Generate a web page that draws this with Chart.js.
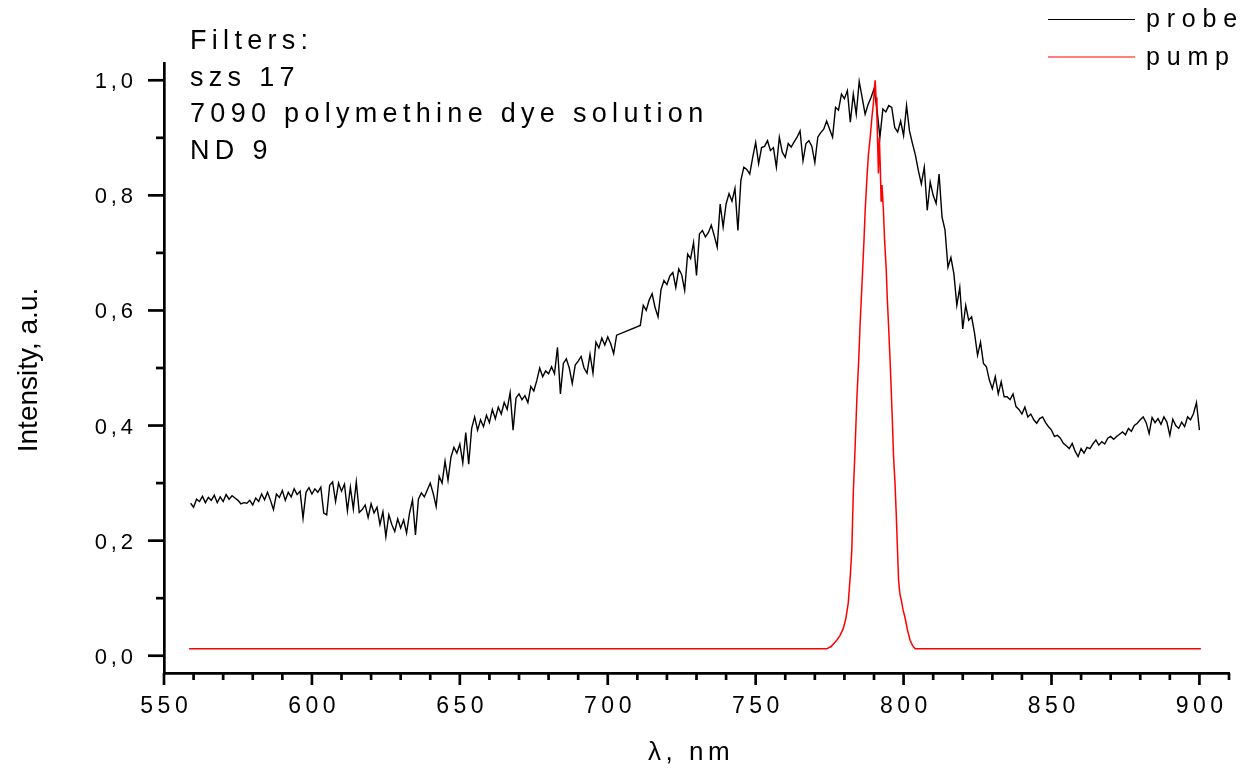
<!DOCTYPE html>
<html lang="en">
  <head>
    <meta charset="UTF-8" />
    <title>probe / pump</title>
    <script src="https://cdn.jsdelivr.net/npm/chart.js"></script>
    <style>
      body { margin: 0; background: #fff; }
    </style>
  </head>
  <body>
    <canvas id="myChart" width="1245" height="769"></canvas>
    <script>
      // probe spectrum, 1 nm step, two runs (no data between 703 and 711)
      const probeStart1 = 559;
      const probeRun1 = [
        0.265, 0.258, 0.272, 0.268, 0.277, 0.266, 0.275, 0.27, 0.279, 0.266,
        0.276, 0.268, 0.28, 0.272, 0.278, 0.274, 0.27, 0.264, 0.266, 0.265,
        0.27, 0.262, 0.274, 0.268, 0.281, 0.271, 0.284, 0.27, 0.254, 0.281,
        0.275, 0.287, 0.27, 0.284, 0.276, 0.29, 0.28, 0.286, 0.239, 0.284,
        0.292, 0.281, 0.29, 0.284, 0.293, 0.248, 0.245, 0.296, 0.302, 0.268,
        0.3, 0.286, 0.298, 0.252, 0.293, 0.255, 0.302, 0.249, 0.254, 0.262,
        0.24, 0.264, 0.248, 0.258, 0.228, 0.25, 0.207, 0.245, 0.228, 0.216,
        0.238, 0.222, 0.236, 0.213, 0.248, 0.271, 0.21, 0.272, 0.283, 0.276,
        0.288, 0.3, 0.282, 0.259, 0.312, 0.3, 0.338, 0.305, 0.345, 0.362,
        0.352, 0.368, 0.335, 0.388, 0.333, 0.395, 0.415, 0.392, 0.41, 0.398,
        0.418, 0.405, 0.428, 0.412, 0.432, 0.42, 0.44, 0.428, 0.457, 0.392,
        0.448, 0.455, 0.445, 0.452, 0.44, 0.468, 0.46, 0.478, 0.5, 0.485,
        0.495, 0.49, 0.502, 0.49, 0.536, 0.455, 0.508, 0.516, 0.5, 0.473,
        0.505, 0.512, 0.52, 0.5, 0.491, 0.524, 0.491, 0.545, 0.535, 0.552,
        0.54, 0.554, 0.542, 0.525, 0.557,
      ];
      const probeStart2 = 711;
      const probeRun2 = [
        0.574, 0.609, 0.6, 0.618, 0.629, 0.605, 0.589, 0.636, 0.652, 0.645,
        0.66, 0.666, 0.64, 0.672, 0.662, 0.635, 0.698, 0.69, 0.718, 0.661,
        0.733, 0.739, 0.728, 0.735, 0.748, 0.73, 0.71, 0.785, 0.745, 0.785,
        0.803, 0.79, 0.812, 0.739, 0.826, 0.849, 0.845, 0.837, 0.866, 0.892,
        0.855, 0.883, 0.885, 0.895, 0.878, 0.883, 0.849, 0.901, 0.875, 0.866,
        0.89, 0.884, 0.893, 0.901, 0.912, 0.86, 0.89, 0.895, 0.885, 0.857,
        0.901, 0.909, 0.915, 0.929, 0.915, 0.901, 0.953, 0.948, 0.976, 0.968,
        0.982, 0.927, 0.976, 0.941, 0.998, 0.97, 0.941, 0.958, 0.97, 0.985,
        0.95, 0.901, 0.95, 0.945, 0.956, 0.953, 0.918, 0.91, 0.929, 0.904,
        0.956, 0.912, 0.89, 0.87, 0.843, 0.82, 0.849, 0.774, 0.823, 0.8,
        0.786, 0.837, 0.762, 0.74, 0.675, 0.692, 0.664, 0.609, 0.64, 0.568,
        0.609, 0.583, 0.589, 0.56, 0.522, 0.545, 0.508, 0.502, 0.479, 0.464,
        0.485, 0.455, 0.476, 0.45, 0.45, 0.445, 0.455, 0.433, 0.428, 0.42,
        0.432, 0.415, 0.42, 0.41, 0.404, 0.412, 0.415, 0.405, 0.398, 0.392,
        0.381, 0.383, 0.378, 0.369, 0.365, 0.36, 0.369, 0.355, 0.346, 0.36,
        0.352, 0.362, 0.36, 0.368, 0.375, 0.366, 0.372, 0.368, 0.378, 0.381,
        0.376, 0.381, 0.385, 0.389, 0.384, 0.395, 0.39, 0.4, 0.404, 0.41,
        0.415, 0.405, 0.386, 0.414, 0.405, 0.412, 0.402, 0.415, 0.406, 0.383,
        0.411, 0.4, 0.395, 0.406, 0.398, 0.415, 0.41, 0.421, 0.44, 0.392,
      ];

      // pump spectrum (wavelength, intensity)
      const pumpWl = [
        558.5, 774.0, 775.5, 777.4, 778.5, 779.6, 780.5, 781.3, 782.0, 782.5,
        783.0, 783.6, 784.2, 784.8, 785.3, 785.8, 786.2, 786.6, 787.0, 787.5,
        788.1, 788.7, 789.3, 789.8, 790.2, 790.4, 790.7, 791.0, 791.5, 791.8,
        792.1, 792.4, 792.7, 793.2, 793.6, 794.1, 794.5, 794.9, 795.3, 795.7,
        796.2, 796.6, 797.1, 797.5, 797.9, 798.3, 798.6, 798.8, 799.3, 799.8,
        800.5, 801.3, 802.2, 803.0, 803.9, 900.5,
      ];
      const pumpInt = [
        0.012, 0.012, 0.016, 0.027, 0.035, 0.047, 0.065, 0.092, 0.14, 0.184,
        0.282, 0.36, 0.446, 0.51, 0.576, 0.63, 0.675, 0.72, 0.772, 0.82,
        0.87, 0.9, 0.936, 0.96, 0.99, 1.0, 0.97, 0.936, 0.838, 0.9,
        0.855, 0.79, 0.818, 0.772, 0.72, 0.675, 0.62, 0.576, 0.53, 0.479,
        0.41, 0.347, 0.3, 0.249, 0.19, 0.132, 0.115, 0.106, 0.095, 0.08,
        0.066, 0.045, 0.027, 0.018, 0.012, 0.012,
      ];

      const xTickValues = [550, 600, 650, 700, 750, 800, 850, 900];
      const xTickLabels = ["550", "600", "650", "700", "750", "800", "850", "900"];
      const yTickValues = [0, 0.2, 0.4, 0.6, 0.8, 1.0];
      const yTickLabels = ["0,0", "0,2", "0,4", "0,6", "0,8", "1,0"];
      const noteLines = ["Filters:", "szs 17", "7090 polymethine dye solution", "ND 9"];
      const seriesNames = ["probe", "pump"];
      const seriesColors = ["#000000", "#ff0000"];

      const FONT = '"Liberation Sans", Arial, sans-serif';

      function runToPoints(start, values) {
        return values.map((v, i) => ({ x: start + i, y: v }));
      }

      // letter-spaced text, align: left / center / right
      function spaced(ctx, text, x, y, ls, align) {
        ctx.letterSpacing = ls + "px";
        const w = ctx.measureText(text).width - ls;
        let x0 = x;
        if (align === "center") x0 = x - w / 2;
        if (align === "right") x0 = x - w;
        ctx.textAlign = "left";
        ctx.fillText(text, x0, y);
        ctx.letterSpacing = "0px";
      }

      const decor = {
        id: "decor",
        afterDraw(chart) {
          const { ctx, scales, chartArea: a } = chart;
          const xs = scales.x;
          const ys = scales.y;
          ctx.save();
          ctx.strokeStyle = "#000";
          ctx.fillStyle = "#000";
          ctx.lineWidth = 2.7;

          // x ticks every 10, long ones every 50
          for (let v = 550; v <= 910; v += 10) {
            const px = xs.getPixelForValue(v);
            const len = v % 50 === 0 ? 12 : 7;
            ctx.beginPath();
            ctx.moveTo(px, a.bottom);
            ctx.lineTo(px, a.bottom + len);
            ctx.stroke();
          }
          // y ticks every 0.1
          for (let k = 0; k <= 10; k++) {
            const py = ys.getPixelForValue(k / 10);
            const len = k % 2 === 0 ? 16 : 8;
            ctx.beginPath();
            ctx.moveTo(a.left, py);
            ctx.lineTo(a.left - len, py);
            ctx.stroke();
          }

          ctx.textBaseline = "alphabetic";
          ctx.font = "23px " + FONT;
          xTickValues.forEach((v, i) => {
            spaced(ctx, xTickLabels[i], xs.getPixelForValue(v), 713, 4.5, "center");
          });
          ctx.font = "22px " + FONT;
          yTickValues.forEach((v, i) => {
            spaced(ctx, yTickLabels[i], 133, ys.getPixelForValue(v) + 8, 3.8, "right");
          });

          // axis titles
          ctx.font = "26px " + FONT;
          spaced(ctx, "\u03bb, nm", 648, 760, 4.5, "left");
          ctx.save();
          ctx.translate(37, 370);
          ctx.rotate(-Math.PI / 2);
          ctx.font = "28px " + FONT;
          ctx.textAlign = "center";
          ctx.fillText("Intensity, a.u.", 0, 0);
          ctx.restore();

          // note block
          ctx.font = "27px " + FONT;
          noteLines.forEach((t, i) => {
            spaced(ctx, t, 190, 49 + i * 36.5, 5.3, "left");
          });

          // legend
          ctx.font = "25px " + FONT;
          seriesNames.forEach((name, i) => {
            const ly = 19.5 + i * 37.5;
            ctx.strokeStyle = seriesColors[i];
            ctx.lineWidth = 1.2;
            ctx.beginPath();
            ctx.moveTo(1048, ly);
            ctx.lineTo(1135, ly);
            ctx.stroke();
            spaced(ctx, name, 1146, ly + 7.5, 6.8, "left");
          });
          ctx.restore();
        },
      };

      const probePoints = runToPoints(probeStart1, probeRun1).concat(
        runToPoints(probeStart2, probeRun2)
      );
      const pumpPoints = pumpWl.map((w, i) => ({ x: w, y: pumpInt[i] }));

      new Chart(document.getElementById("myChart"), {
        type: "scatter",
        data: {
          datasets: [
            {
              label: seriesNames[0],
              data: probePoints,
              showLine: true,
              borderColor: seriesColors[0],
              borderWidth: 1.4,
              pointRadius: 0,
              order: 1,
            },
            {
              label: seriesNames[1],
              data: pumpPoints,
              showLine: true,
              borderColor: seriesColors[1],
              borderWidth: 1.5,
              pointRadius: 0,
              order: 0,
            },
          ],
        },
        options: {
          responsive: false,
          animation: false,
          devicePixelRatio: 1,
          layout: { padding: { top: 63, right: 16, left: 0, bottom: 0 } },
          plugins: { legend: { display: false }, tooltip: { enabled: false } },
          scales: {
            x: {
              type: "linear",
              min: 550,
              max: 910,
              ticks: { display: false },
              grid: { display: false },
              border: { display: true, color: "#000", width: 2.7 },
              afterFit: (s) => {
                s.height = 96;
              },
            },
            y: {
              type: "linear",
              min: -0.03,
              max: 1.03,
              ticks: { display: false },
              grid: { display: false },
              border: { display: true, color: "#000", width: 2.7 },
              afterFit: (s) => {
                s.width = 164;
              },
            },
          },
        },
        plugins: [decor],
      });
    </script>
  </body>
</html>
